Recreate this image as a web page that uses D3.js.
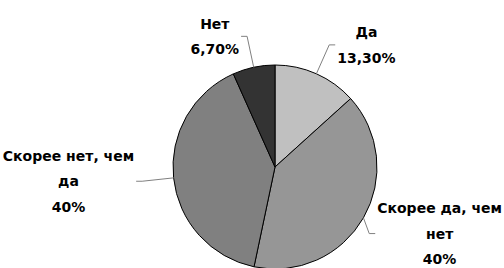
<!DOCTYPE html>
<html>
<head>
<meta charset="utf-8">
<script src="https://cdn.jsdelivr.net/npm/d3@7"></script>
<style>
  body { margin: 0; background: #fff; }
</style>
</head>
<body>
<script>
// data
var categories = ["Да", "Скорее да, чем нет", "Скорее нет, чем да", "Нет"];
var values = [13.3, 40, 40, 6.7];
var percentLabels = ["13,30%", "40%", "40%", "6,70%"];
// label text split into lines the way the chart wraps them
var labelLines = [["Да"], ["Скорее да, чем", "нет"], ["Скорее нет, чем", "да"], ["Нет"]];
var colors = ["#c0c0c0", "#969696", "#808080", "#333333"];

var width = 504;
var height = 268;
var cx = 275;
var cy = 167;
var radius = 102;
var lineH = 25.5;

var svg = d3.select("body").append("svg")
    .attr("width", width)
    .attr("height", height);

var pie = d3.pie().sort(null).value(function(d) { return d; });
var arcs = pie(values);

var arc = d3.arc().innerRadius(0).outerRadius(radius);

var g = svg.append("g").attr("transform", "translate(" + cx + "," + cy + ")");

g.selectAll("path.slice")
    .data(arcs)
    .enter().append("path")
    .attr("class", "slice")
    .attr("d", arc)
    .attr("fill", function(d, i) { return colors[i]; })
    .attr("stroke", "#000")
    .attr("stroke-width", 1);

// labels + leader lines
arcs.forEach(function(a, i) {
  var mid = (a.startAngle + a.endAngle) / 2;
  var side = Math.sin(mid) >= 0 ? 1 : -1;
  var edge = [Math.sin(mid) * radius, -Math.cos(mid) * radius];
  var elbow = [Math.sin(mid) * radius * 1.31, -Math.cos(mid) * radius * 1.31];

  var lines = labelLines[i].concat([percentLabels[i]]);
  var t = g.append("text")
      .attr("text-anchor", "middle")
      .attr("font-family", "DejaVu Sans, sans-serif")
      .attr("font-weight", "bold")
      .style("font-size", "14px")
      .attr("fill", "#000");
  lines.forEach(function(s, k) {
    t.append("tspan").attr("x", 0).attr("dy", k == 0 ? 0 : lineH).text(s);
  });
  var w = 0;
  t.selectAll("tspan").each(function() { w = Math.max(w, this.getComputedTextLength()); });
  var blockH = (lines.length - 1) * lineH;

  var lx = elbow[0] + side * (w / 2 + 8);
  var minX = -cx + w / 2 + 2, maxX = width - cx - w / 2 - 2;
  if (lx > maxX) { lx = maxX; elbow[0] = lx - w / 2 - 8; }
  if (lx < minX) { lx = minX; elbow[0] = lx + w / 2 + 8; }
  var ly = elbow[1] - blockH / 2 + 5;
  var maxY = height - cy - 3 - blockH;
  if (ly > maxY) { ly = maxY; }

  t.attr("transform", "translate(" + lx + "," + ly + ")");

  g.append("polyline")
      .attr("points", [edge, elbow, [elbow[0] + side * 6, elbow[1]]].map(function(p) { return p.join(","); }).join(" "))
      .attr("fill", "none")
      .attr("stroke", "#808080")
      .attr("stroke-width", 1);
});
</script>
</body>
</html>
